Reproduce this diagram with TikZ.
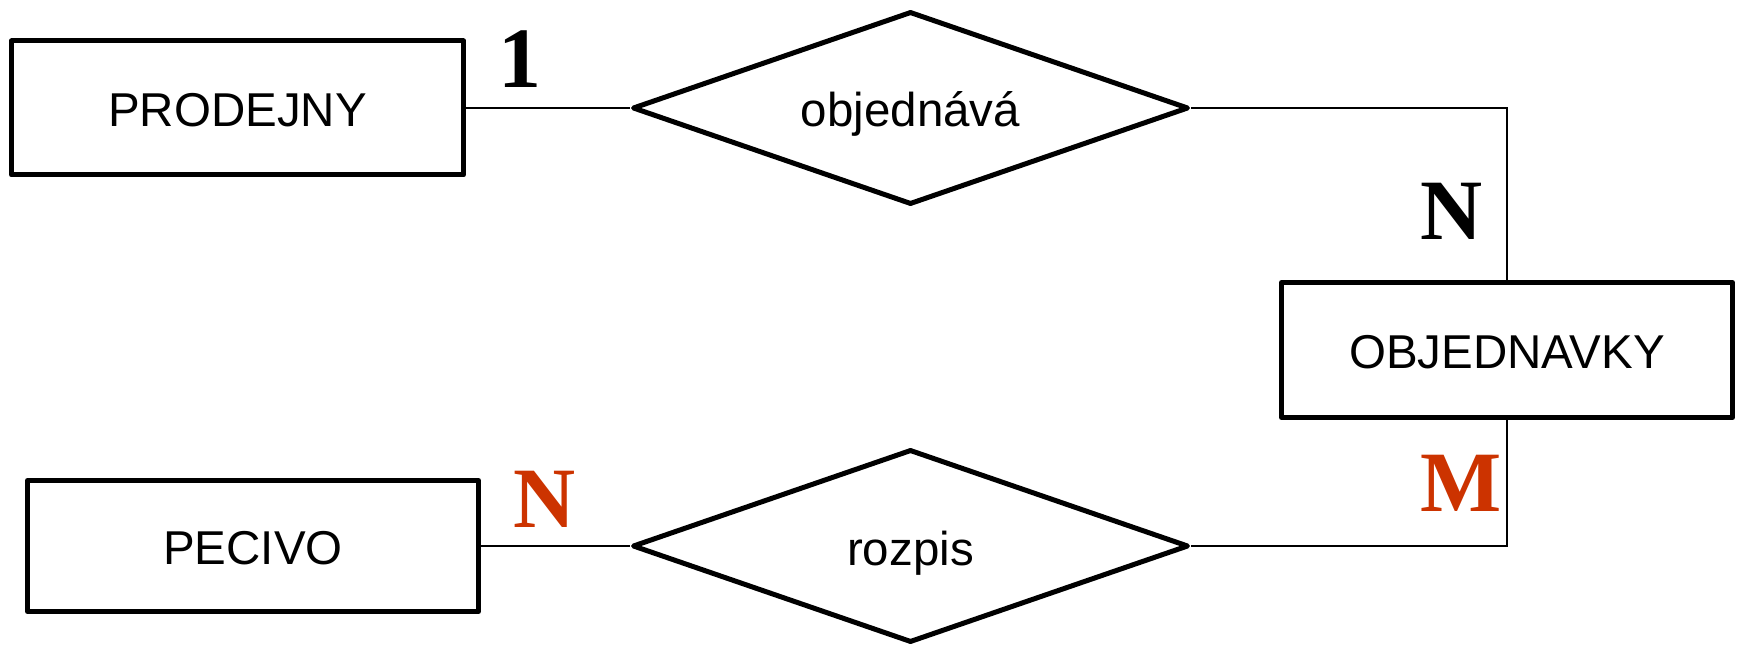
\documentclass[tikz,border=0pt]{standalone}
\usepackage{fontspec}
\setmainfont{Liberation Sans}
\newfontfamily\cardfont{Liberation Serif}
\usetikzlibrary{shapes.geometric}
\definecolor{cardred}{RGB}{204,51,0}
\begin{document}
\begin{tikzpicture}[x=1pt,y=-1pt,
  entity/.style={draw, line width=5pt, line join=round, inner sep=0pt,
    font=\fontsize{47.5}{50}\selectfont, text height=37pt, text depth=0pt},
  rel/.style={diamond, draw, line width=5pt, line join=round, inner sep=0pt,
    shape aspect=2.88, minimum width=556pt, minimum height=193pt,
    font=\fontsize{47.5}{50}\selectfont, text height=38pt, text depth=0pt},
  conn/.style={line width=2pt},
  card/.style={font=\cardfont\bfseries\fontsize{86}{90}\selectfont, anchor=base, inner sep=0pt}]
\useasboundingbox (0,0) rectangle (1738,647);
\node[entity, minimum width=452pt, minimum height=134pt] (prod) at (237.5,108) {PRODEJNY};
\node[entity, minimum width=451pt, minimum height=135pt] (obj) at (1507,350) {OBJEDNAVKY};
\node[entity, minimum width=451pt, minimum height=131pt] (pec) at (253,546) {PECIVO};
\node[rel] (objd) at (910.5,108) {objednává};
\node[rel] (roz) at (910.5,546) {rozpis};
\draw[conn] (prod.east) -- (objd.west);
\draw[conn] (objd.east) -| (obj.north);
\draw[conn] (pec.east) -- (roz.west);
\draw[conn] (roz.east) -| (obj.south);
\node[card] (c1) at (520,88) {1};
\node[card] (cN) at (1452,240) {N};
\node[card, text=cardred] (cN2) at (545,527) {N};
\node[card, text=cardred] (cM) at (1461.5,511) {M};
\end{tikzpicture}
\end{document}
